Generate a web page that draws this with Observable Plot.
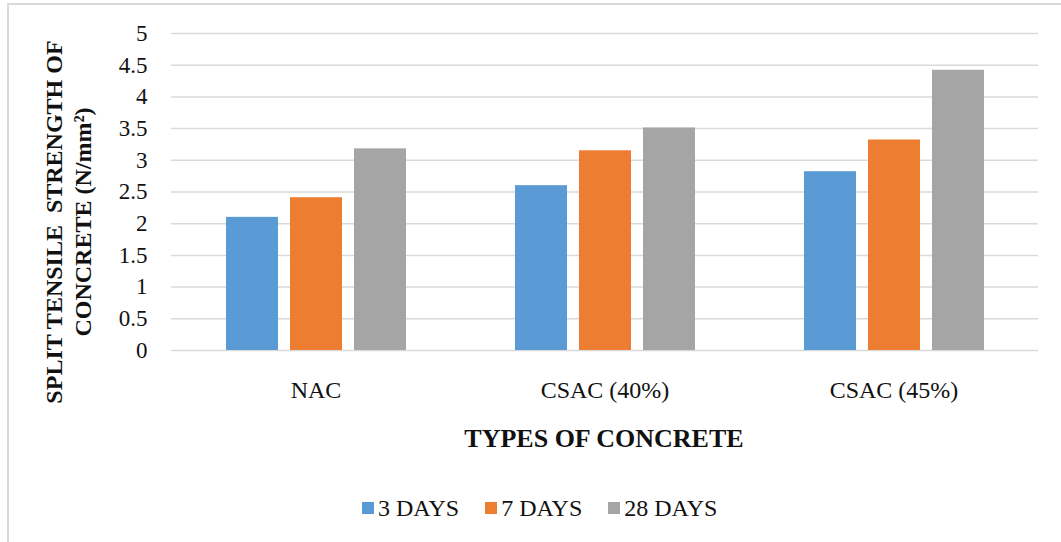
<!DOCTYPE html>
<html>
<head>
<meta charset="utf-8">
<script src="https://cdn.jsdelivr.net/npm/d3@7"></script>
<script src="https://cdn.jsdelivr.net/npm/@observablehq/plot@0.6"></script>
<style>
  html, body { margin: 0; padding: 0; background: #fff; }
  body { width: 1061px; height: 542px; overflow: hidden; position: relative; font-family: "Liberation Serif", "Times New Roman", serif; }
  #frame { position: absolute; left: 7px; top: 3px; width: 1200px; height: 700px; border-left: 2px solid #d9d9d9; border-top: 2px solid #d9d9d9; pointer-events: none; }
  #chart { position: relative; }
  #legend { position: relative; margin-left: 362px; margin-top: 22px; height: 28px; line-height: 28px; font-size: 24px; color: #111; white-space: nowrap; }
  .item { display: inline-flex; align-items: center; margin-right: 26px; }
  .sw { width: 12px; height: 12px; margin-right: 4px; display: inline-block; }
</style>
</head>
<body>
<div id="frame"></div>
<div id="chart"></div>
<div id="legend"></div>
<script>
// Concrete types on the category axis and curing ages as the series
const types = ["NAC", "CSAC (40%)", "CSAC (45%)"];
const ages = ["3 DAYS", "7 DAYS", "28 DAYS"];

// Split tensile strength (N/mm²) for each type, one array per curing age
const days3 = [2.10, 2.60, 2.82];
const days7 = [2.41, 3.15, 3.32];
const days28 = [3.18, 3.51, 4.42];

const yTicks = [0, 0.5, 1, 1.5, 2, 2.5, 3, 3.5, 4, 4.5, 5];
const ageColors = ["#5B9BD5", "#ED7D31", "#A5A5A5"];

const series = [days3, days7, days28];
const rows = [];
types.forEach((t, i) => {
  ages.forEach((a, j) => rows.push({type: t, age: a, value: series[j][i]}));
});

const chart = Plot.plot({
  width: 1061,
  height: 470,
  marginLeft: 170,
  marginRight: 22,
  marginTop: 33,
  marginBottom: 120,
  style: {fontFamily: "Liberation Serif, Times New Roman, serif", color: "#111", background: "transparent"},
  fx: {domain: types, padding: 0},
  x: {domain: ages, paddingInner: 0.19, paddingOuter: 0.84, axis: null},
  y: {domain: [0, 5]},
  color: {domain: ages, range: ageColors},
  marks: [
    Plot.gridY(yTicks, {stroke: "#d9d9d9", strokeOpacity: 1, strokeWidth: 1.5}),
    Plot.barY(rows, {fx: "type", x: "age", y: "value", fill: "age"}),
    Plot.axisY(yTicks, {tickSize: 0, tickPadding: 24, fontSize: 23, tickFormat: d => String(d), label: null}),
    Plot.axisFx({anchor: "bottom", tickSize: 0, tickPadding: 30, fontSize: 24, label: null})
  ]
});

document.getElementById("chart").appendChild(chart);

// Axis titles
const svg = d3.select(chart);
const yTitle = svg.append("text")
  .attr("transform", "translate(62,222) rotate(-90)")
  .attr("text-anchor", "middle")
  .attr("font-family", "Liberation Serif, Times New Roman, serif")
  .attr("font-weight", "bold")
  .attr("font-size", 24)
  .attr("fill", "#111");
yTitle.append("tspan").attr("x", 0).attr("y", 0).text("SPLIT TENSILE  STRENGTH OF").style("white-space", "pre");
yTitle.append("tspan").attr("x", 0).attr("y", 29).text("CONCRETE (N/mm²)");

svg.append("text")
  .attr("x", 604)
  .attr("y", 447)
  .attr("text-anchor", "middle")
  .attr("font-family", "Liberation Serif, Times New Roman, serif")
  .attr("font-weight", "bold")
  .attr("font-size", 26)
  .attr("fill", "#111")
  .text("TYPES OF CONCRETE");

// Legend below the chart
const legend = d3.select("#legend");
ages.forEach((a, j) => {
  const item = legend.append("span").attr("class", "item");
  item.append("span").attr("class", "sw").style("background", ageColors[j]);
  item.append("span").text(a);
});
</script>
</body>
</html>
